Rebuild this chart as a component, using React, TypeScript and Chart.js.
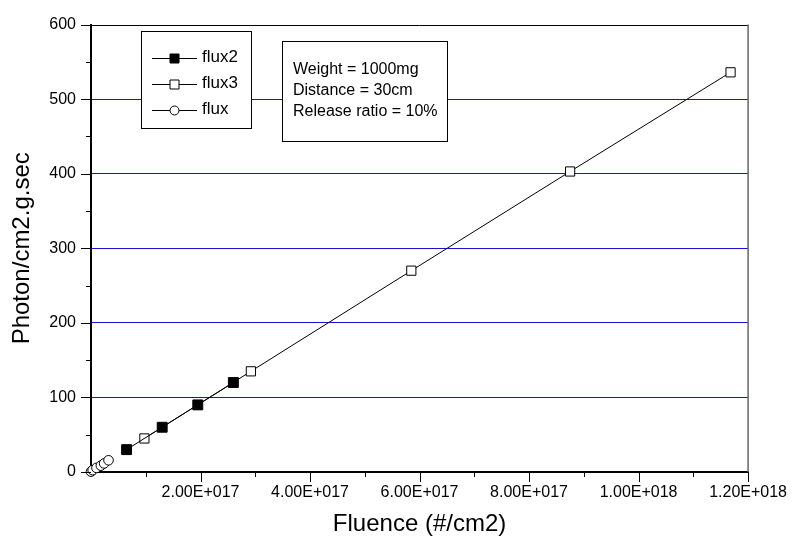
import React, { useEffect, useRef } from 'react';
import { Chart, registerables } from 'chart.js';

Chart.register(...registerables);

// ---- data ----
const seriesLabels = ['flux2', 'flux3', 'flux'];
const flux2X = [0.65e17, 1.3e17, 1.95e17, 2.6e17];
const flux2Y = [30, 60, 90, 120];
const flux3X = [0.975e17, 2.92e17, 5.85e17, 8.75e17, 11.68e17];
const flux3Y = [45, 135, 270, 403, 536];
const fluxX = [0, 0.03e17, 0.1e17, 0.18e17, 0.24e17, 0.32e17];
const fluxY = [0.5, 2.5, 5.5, 8.5, 11.5, 15.7];

const xTickValues = [2e17, 4e17, 6e17, 8e17, 1e18, 1.2e18];
const xTickLabels = ['2.00E+017', '4.00E+017', '6.00E+017', '8.00E+017', '1.00E+018', '1.20E+018'];
const yTickValues = [0, 100, 200, 300, 400, 500, 600];
const yTickLabels = ['0', '100', '200', '300', '400', '500', '600'];
const noteLines = ['Weight = 1000mg', 'Distance = 30cm', 'Release ratio = 10%'];
const xTitle = 'Fluence (#/cm2)';
const yTitle = 'Photon/cm2.g.sec';

const FONT = '"Liberation Sans", Arial, Helvetica, sans-serif';
const GRID_BLUE = '#1414d8';

function drawMarker(ctx: CanvasRenderingContext2D, style: string, filled: boolean, x: number, y: number, size: number) {
  ctx.save();
  ctx.lineWidth = 1;
  ctx.strokeStyle = '#000';
  ctx.fillStyle = filled ? '#000' : '#fff';
  ctx.beginPath();
  if (style === 'circle') {
    ctx.arc(x, y, size / 2, 0, Math.PI * 2);
  } else {
    ctx.rect(x - size / 2, y - size / 2, size, size);
  }
  ctx.fill();
  ctx.stroke();
  ctx.restore();
}

const decorPlugin = {
  id: 'decor',
  afterDraw(chart: any) {
    const ctx: CanvasRenderingContext2D = chart.ctx;
    const ca = chart.chartArea;
    const xs = chart.scales.x;
    const ys = chart.scales.y;
    ctx.save();
    // frame top and right
    ctx.strokeStyle = '#000';
    ctx.lineWidth = 1;
    ctx.beginPath();
    ctx.moveTo(ca.left, Math.round(ca.top) + 0.5);
    ctx.lineTo(ca.right, Math.round(ca.top) + 0.5);
    ctx.stroke();
    ctx.strokeStyle = '#666';
    ctx.lineWidth = 1.5;
    ctx.beginPath();
    ctx.moveTo(ca.right, ca.top);
    ctx.lineTo(ca.right, ca.bottom);
    ctx.stroke();

    // ticks (major + minor)
    ctx.strokeStyle = '#000';
    ctx.lineWidth = 1;
    const yMajor = yTickValues;
    const yMinor = yMajor.slice(0, -1).map((v, i) => (v + yMajor[i + 1]) / 2);
    const xAll = [0, ...xTickValues];
    const xMinor = xAll.slice(0, -1).map((v, i) => (v + xAll[i + 1]) / 2);
    ctx.beginPath();
    yMajor.forEach((v) => {
      const p = Math.round(ys.getPixelForValue(v)) + 0.5;
      ctx.moveTo(ca.left - 10, p);
      ctx.lineTo(ca.left, p);
    });
    yMinor.forEach((v) => {
      const p = Math.round(ys.getPixelForValue(v)) + 0.5;
      ctx.moveTo(ca.left - 5, p);
      ctx.lineTo(ca.left, p);
    });
    xTickValues.forEach((v) => {
      const p = Math.round(xs.getPixelForValue(v)) + 0.5;
      ctx.moveTo(p, ca.bottom);
      ctx.lineTo(p, ca.bottom + 10);
    });
    xMinor.forEach((v) => {
      const p = Math.round(xs.getPixelForValue(v)) + 0.5;
      ctx.moveTo(p, ca.bottom);
      ctx.lineTo(p, ca.bottom + 5);
    });
    ctx.stroke();

    // legend box
    const lx = ca.left + 50;
    const ly = ca.top + 6;
    const lw = 110;
    const lh = 97;
    ctx.fillStyle = '#fff';
    ctx.fillRect(lx, ly, lw, lh);
    ctx.strokeStyle = '#000';
    ctx.lineWidth = 1;
    ctx.strokeRect(Math.round(lx) + 0.5, Math.round(ly) + 0.5, lw, lh);
    ctx.font = `17px ${FONT}`;
    ctx.textBaseline = 'middle';
    ctx.textAlign = 'left';
    chart.data.datasets.forEach((ds: any, i: number) => {
      const cy = ly + 27 + i * 26;
      const x0 = lx + 11;
      const x1 = lx + 56;
      ctx.strokeStyle = '#000';
      ctx.lineWidth = 1;
      ctx.beginPath();
      ctx.moveTo(x0, Math.round(cy) + 0.5);
      ctx.lineTo(x1, Math.round(cy) + 0.5);
      ctx.stroke();
      const filled = ds.pointBackgroundColor === '#000';
      drawMarker(ctx, ds.pointStyle, filled, (x0 + x1) / 2, Math.round(cy) + 0.5, 9);
      ctx.fillStyle = '#000';
      ctx.fillText(ds.label, x1 + 5, cy);
    });

    // note box
    const nx = ca.left + 191;
    const ny = ca.top + 16;
    const nw = 165;
    const nh = 100;
    ctx.fillStyle = '#fff';
    ctx.fillRect(nx, ny, nw, nh);
    ctx.strokeStyle = '#000';
    ctx.lineWidth = 1;
    ctx.strokeRect(Math.round(nx) + 0.5, Math.round(ny) + 0.5, nw, nh);
    ctx.font = `16px ${FONT}`;
    ctx.fillStyle = '#000';
    noteLines.forEach((t, i) => {
      ctx.fillText(t, nx + 11, ny + 29 + i * 21);
    });
    ctx.restore();
  },
};

export default function App() {
  const ref = useRef<HTMLCanvasElement>(null);
  useEffect(() => {
    document.body.style.margin = '0';
    const canvas = ref.current!;
    const chart = new Chart(canvas, {
      type: 'scatter',
      data: {
        datasets: [
          {
            label: seriesLabels[0],
            data: flux2X.map((x, i) => ({ x, y: flux2Y[i] })),
            showLine: true,
            clip: false,
            borderColor: '#000',
            borderWidth: 1,
            pointStyle: 'rect',
            pointRadius: 7,
            pointBackgroundColor: '#000',
            pointBorderColor: '#000',
            pointBorderWidth: 1,
          },
          {
            label: seriesLabels[1],
            data: flux3X.map((x, i) => ({ x, y: flux3Y[i] })),
            showLine: true,
            clip: false,
            borderColor: '#000',
            borderWidth: 1,
            pointStyle: 'rect',
            pointRadius: 6.5,
            pointBackgroundColor: '#fff',
            pointBorderColor: '#000',
            pointBorderWidth: 1,
          },
          {
            label: seriesLabels[2],
            data: fluxX.map((x, i) => ({ x, y: fluxY[i] })),
            showLine: true,
            clip: false,
            borderColor: '#000',
            borderWidth: 1,
            pointStyle: 'circle',
            pointRadius: 4.8,
            pointBackgroundColor: '#fff',
            pointBorderColor: '#000',
            pointBorderWidth: 1,
          },
        ],
      },
      options: {
        animation: false,
        responsive: true,
        maintainAspectRatio: false,
        layout: { padding: { top: 13, right: 46, left: 0, bottom: 0 } },
        plugins: { legend: { display: false }, tooltip: { enabled: false } },
        scales: {
          x: {
            type: 'linear',
            min: 0,
            max: 1.2e18,
            afterFit: (s: any) => { s.height = 72; },
            afterBuildTicks: (s: any) => { s.ticks = xTickValues.map((v) => ({ value: v })); },
            grid: { drawOnChartArea: false, drawTicks: false },
            border: { display: true, color: '#000', width: 2 },
            ticks: {
              padding: 11,
              color: '#000',
              maxRotation: 0,
              autoSkip: false,
              font: { family: FONT, size: 16 },
              callback: (v: any) => {
                const i = xTickValues.indexOf(Number(v));
                return i >= 0 ? xTickLabels[i] : '';
              },
            },
            title: {
              display: true,
              text: xTitle,
              color: '#000',
              font: { family: FONT, size: 24 },
              padding: { top: 0, bottom: 5 },
            },
          },
          y: {
            type: 'linear',
            min: 0,
            max: 600,
            afterFit: (s: any) => { s.width = 91; },
            afterBuildTicks: (s: any) => { s.ticks = yTickValues.map((v) => ({ value: v })); },
            grid: {
              drawTicks: false,
              color: (c: any) => {
                const v = c.tick ? c.tick.value : 0;
                return v > 0 && v < 600 ? GRID_BLUE : 'rgba(0,0,0,0)';
              },
              lineWidth: 1,
            },
            border: { display: true, color: '#000', width: 2 },
            ticks: {
              padding: 15,
              color: '#000',
              autoSkip: false,
              font: { family: FONT, size: 16 },
              callback: (v: any) => {
                const i = yTickValues.indexOf(Number(v));
                return i >= 0 ? yTickLabels[i] : '';
              },
            },
            title: {
              display: true,
              text: yTitle,
              color: '#000',
              font: { family: FONT, size: 24 },
              padding: { top: 8, bottom: 0 },
            },
          },
        },
      },
      plugins: [decorPlugin],
    });
    return () => chart.destroy();
  }, []);
  return (
    <div style={{ width: 798, height: 544, position: 'relative' }}>
      <canvas ref={ref} />
    </div>
  );
}
